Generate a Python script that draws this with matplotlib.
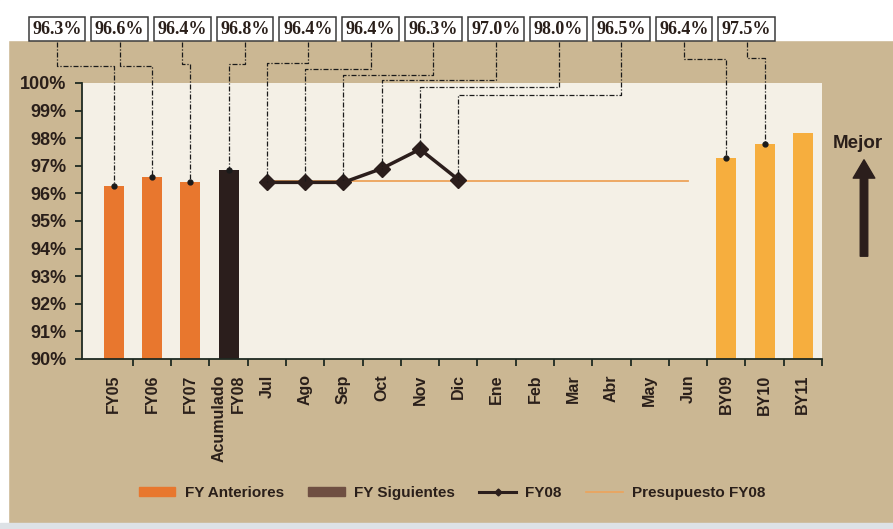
import numpy as np
import matplotlib
matplotlib.use("Agg")
import matplotlib.pyplot as plt
from matplotlib.patches import Patch, Rectangle, FancyArrowPatch
from matplotlib.lines import Line2D
from matplotlib.transforms import IdentityTransform

# --- data ---
prev_years = ["FY05", "FY06", "FY07"]
prev_vals = [96.25, 96.6, 96.4]
acum_label = "Acumulado\nFY08"
acum_val = 96.85
months = ["Jul", "Ago", "Sep", "Oct", "Nov", "Dic",
          "Ene", "Feb", "Mar", "Abr", "May", "Jun"]
fy08_vals = [96.4, 96.4, 96.4, 96.9, 97.6, 96.5]          # Jul..Dic
budget_vals = [96.45, 96.45, 96.45, 96.45, 96.45, 96.45,
               96.45, 96.45, 96.45, 96.45, 96.45, 96.45]  # Jul..Jun
next_years = ["BY09", "BY10", "BY11"]
next_vals = [97.3, 97.8, 98.2]

callout_cats = ["FY05", "FY06", "FY07", "Acumulado\nFY08", "Jul", "Ago",
                "Sep", "Oct", "Nov", "Dic", "BY09", "BY10"]
callout_text = ["96.3%", "96.6%", "96.4%", "96.8%", "96.4%", "96.4%",
                "96.3%", "97.0%", "98.0%", "96.5%", "96.4%", "97.5%"]

legend_labels = ["FY Anteriores", "FY Siguientes", "FY08", "Presupuesto FY08"]

# --- colours ---
TAN = "#cbb793"
CREAM = "#f4f0e6"
ORANGE = "#e8772e"
LIGHT_ORANGE = "#f6ae3e"
DARK = "#2b1e1c"
BROWN = "#6f4f42"
BUDGET = "#eda35a"
TXT = "#2a1f1a"
SANS = ["Liberation Sans", "DejaVu Sans"]

W, H = 893, 529

categories = prev_years + [acum_label] + months + next_years
pos = {c: i for i, c in enumerate(categories)}

fig = plt.figure(figsize=(W / 100, H / 100), dpi=100, facecolor=TAN)
# paper margins of the scan
fig.add_artist(Rectangle((0, 1 - 40 / H), 1, 40 / H, transform=fig.transFigure,
                         color="white", zorder=0.5))
fig.add_artist(Rectangle((0, 0), 8 / W, 1, transform=fig.transFigure,
                         color="white", zorder=0.5))
fig.add_artist(Rectangle((0, 0), 1, 6 / H, transform=fig.transFigure,
                         color="#dde2e6", zorder=0.5))

ax = fig.add_axes([82 / W, 170 / H, 740 / W, 276 / H], facecolor=CREAM)

bar_w = 0.52
ax.bar([pos[c] for c in prev_years], prev_vals, width=bar_w, color=ORANGE, zorder=2)
ax.bar([pos[acum_label]], [acum_val], width=bar_w, color=DARK, zorder=2)
ax.bar([pos[c] for c in next_years], next_vals, width=bar_w, color=LIGHT_ORANGE, zorder=2)

ax.plot([pos[m] for m in months], budget_vals, color=BUDGET, lw=1.3, zorder=3)
ax.plot([pos[m] for m in months[:len(fy08_vals)]], fy08_vals, color=DARK, lw=2.5,
        marker="D", ms=8.5, zorder=4)

ax.set_xlim(-0.83, len(categories) - 0.5)
ax.set_ylim(90, 100)

ax.set_yticks(np.arange(90, 101, 1))
ax.set_yticklabels(["{}%".format(v) for v in range(90, 101)],
                   family=SANS, weight="bold", fontsize=13, color=TXT)
ax.set_xticks(range(len(categories)))
ax.set_xticklabels(categories, rotation=90, va="top", ha="center",
                   multialignment="right", linespacing=1.3,
                   family=SANS, weight="bold", fontsize=11.5, color=TXT)
ax.set_xticks(np.arange(0.5, len(categories), 1), minor=True)
ax.tick_params(axis="x", which="major", length=0, pad=11)
ax.tick_params(axis="x", which="minor", length=5, width=1.3, color="#1f2a22", direction="out")
ax.tick_params(axis="y", length=5, width=1.3, color="#1f2a22", pad=6)

for s in ["top", "right"]:
    ax.spines[s].set_visible(False)
for s in ["left", "bottom"]:
    ax.spines[s].set_color("#1f2a22")
    ax.spines[s].set_linewidth(1.3)

# --- callout boxes with dash-dot leaders ---
values = dict(zip(prev_years, prev_vals))
values[acum_label] = acum_val
values.update(zip(months, fy08_vals))
values.update(zip(next_years, next_vals))

box_x0, box_dx, box_y = 57, 62.7, 29
leader_levels = [66, 66, 64, 64, 63, 69, 75, 80, 87, 95, 59, 58]

for k, (cat, txt) in enumerate(zip(callout_cats, callout_text)):
    bx = box_x0 + k * box_dx
    fig.text(bx / W, 1 - box_y / H, txt, ha="center", va="center",
             family=["Liberation Serif", "DejaVu Serif"], weight="bold",
             fontsize=13, color=TXT, zorder=6,
             bbox=dict(boxstyle="square,pad=0.2", fc="white", ec="#3a3a3a", lw=1.1))
    dx, dy = ax.transData.transform((pos[cat], values[cat]))
    dy = H - dy
    lvl = leader_levels[k]
    xs = np.array([bx, bx, dx, dx]) / W
    ys = 1 - np.array([box_y + 13, lvl, lvl, dy]) / H
    fig.add_artist(Line2D(xs, ys, transform=fig.transFigure, color="#1a1a1a",
                          lw=0.9, dashes=(4, 1.5, 1, 1.5), zorder=5))
    if cat not in months:
        ax.plot(pos[cat], values[cat], "o", ms=3.5, color="#1a1a1a", zorder=5)

# --- "Mejor" arrow ---
fig.text(858 / W, 1 - 143 / H, "Mejor", ha="center", va="center",
         family=SANS, weight="bold", fontsize=13.5, color=TXT)
fig.add_artist(FancyArrowPatch((864, H - 259), (864, H - 157),
                               transform=IdentityTransform(),
                               arrowstyle="simple,head_length=1.1,head_width=1.3,tail_width=0.45",
                               mutation_scale=12, color=DARK, zorder=4))

# --- legend ---
handles = [Patch(color=ORANGE), Patch(color=BROWN),
           Line2D([], [], color=DARK, lw=2.2, marker="D", ms=3.5),
           Line2D([], [], color=BUDGET, lw=1.2)]
leg = fig.legend(handles, legend_labels, loc="center", bbox_to_anchor=(452 / W, 1 - 493 / H),
                 ncol=4, frameon=False, handlelength=2.4, handleheight=0.6,
                 handletextpad=0.6, columnspacing=1.6,
                 prop=dict(family=SANS, weight="bold", size=11))
for t in leg.get_texts():
    t.set_color(TXT)

fig.savefig("out.png", dpi=100, facecolor=fig.get_facecolor())
